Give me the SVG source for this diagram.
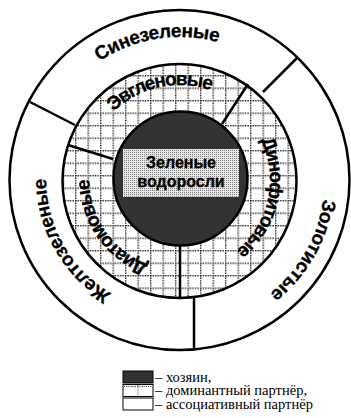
<svg xmlns="http://www.w3.org/2000/svg" xmlns:xlink="http://www.w3.org/1999/xlink" width="351" height="418" viewBox="0 0 351 418">
<style>
.ring{stroke:#000;stroke-width:2.5}
.div{stroke:#000;stroke-width:2.5;fill:none}
.lbl{font-family:"Liberation Sans",Arial,sans-serif;font-weight:bold;font-size:16px;fill:#000;stroke:#000;stroke-width:0.3}
.arc{font-size:19px}
.leg{font-family:"Liberation Serif","Times New Roman",serif;font-size:14.5px;fill:#000}
.box{stroke:#000;stroke-width:1}
</style>
<defs>
<pattern id="grid" x="0" y="0" width="12.5" height="12.5" patternUnits="userSpaceOnUse">
<rect width="12.5" height="12.5" fill="#fff"/>
<line x1="0" y1="0.7" x2="12.5" y2="0.7" stroke="#111" stroke-width="1.4" stroke-dasharray="1.3 1.2"/>
<line x1="0.7" y1="0" x2="0.7" y2="12.5" stroke="#111" stroke-width="1.4" stroke-dasharray="1.3 1.2"/>
</pattern>
<pattern id="fine" x="0" y="0" width="2" height="2" patternUnits="userSpaceOnUse">
<rect width="2" height="2" fill="#e6e6e6"/>
<rect width="1" height="1" fill="#808080"/>
</pattern>
<path id="p1" d="M99.53,61.45 A143,143 0 0 1 263.55,64.31"/>
<path id="p2" d="M113.5,111.7 A95,95 0 0 1 227,97.73"/>
<path id="p3" d="M260.84,140.33 A90.5,90.5 0 0 1 221.99,259.9"/>
<path id="p4" d="M323.2,199.18 A145,145 0 0 1 252,305.57"/>
<path id="p5" d="M111.26,293.58 A133.5,133.5 0 0 1 48,156.8"/>
<path id="p6" d="M148.13,264.36 A90,90 0 0 1 90.87,164.37"/>
</defs>
<g id="outer-ring">
<circle class="ring" cx="179.5" cy="180" r="170" fill="#fff"/>
</g>
<g id="middle-ring">
<circle class="ring" cx="179.5" cy="181" r="117" fill="url(#grid)"/>
</g>
<g id="dividers">
<line class="div" x1="68" y1="145" x2="113" y2="159"/>
<line class="div" x1="222" y1="124" x2="248" y2="84"/>
<line class="div" x1="180" y1="245" x2="180" y2="298"/>
<line class="div" x1="30" y1="102" x2="75" y2="125"/>
<line class="div" x1="263" y1="92" x2="297" y2="58"/>
<line class="div" x1="194" y1="298" x2="194" y2="350"/>
</g>
<g id="host">
<circle class="ring" cx="180.5" cy="178.5" r="67" fill="#333"/>
<rect x="123" y="149" width="116" height="48" fill="url(#fine)"/>
<text class="lbl" x="181" y="168" text-anchor="middle">Зеленые</text>
<text class="lbl" x="181" y="187" text-anchor="middle">водоросли</text>
</g>
<g id="sinezelenye"><text class="lbl arc"><textPath xlink:href="#p1" textLength="124" lengthAdjust="spacing">Синезеленые</textPath></text></g>
<g id="evglenovye"><text class="lbl arc"><textPath xlink:href="#p2" textLength="105" lengthAdjust="spacing">Эвгленовые</textPath></text></g>
<g id="dinofitovye"><text class="lbl arc"><textPath xlink:href="#p3" textLength="122" lengthAdjust="spacing">Динофитовые</textPath></text></g>
<g id="zolotistye"><text class="lbl arc"><textPath xlink:href="#p4" textLength="111" lengthAdjust="spacing">Золотистые</textPath></text></g>
<g id="zheltozelenye"><text class="lbl arc"><textPath xlink:href="#p5" textLength="138" lengthAdjust="spacing">Желтозеленые</textPath></text></g>
<g id="diatomovye"><text class="lbl arc"><textPath xlink:href="#p6" textLength="110" lengthAdjust="spacing">Диатомовые</textPath></text></g>
<g id="legend">
<rect class="box" x="123" y="371" width="30" height="12" fill="#333"/>
<rect class="box" x="123" y="384.5" width="30" height="12" fill="#fff"/>
<line x1="124" y1="386.5" x2="152" y2="386.5" stroke="#333" stroke-width="1" stroke-dasharray="1 1.2"/>
<line x1="138" y1="385" x2="138" y2="396" stroke="#333" stroke-width="1" stroke-dasharray="1 1.2"/>
<rect class="box" x="123" y="398" width="30" height="12" fill="#fff"/>
<text class="leg" x="155" y="381.5">– хозяин,</text>
<text class="leg" x="155" y="395">– доминантный партнёр,</text>
<text class="leg" x="155" y="408.5">– ассоциативный партнёр</text>
</g>
</svg>
